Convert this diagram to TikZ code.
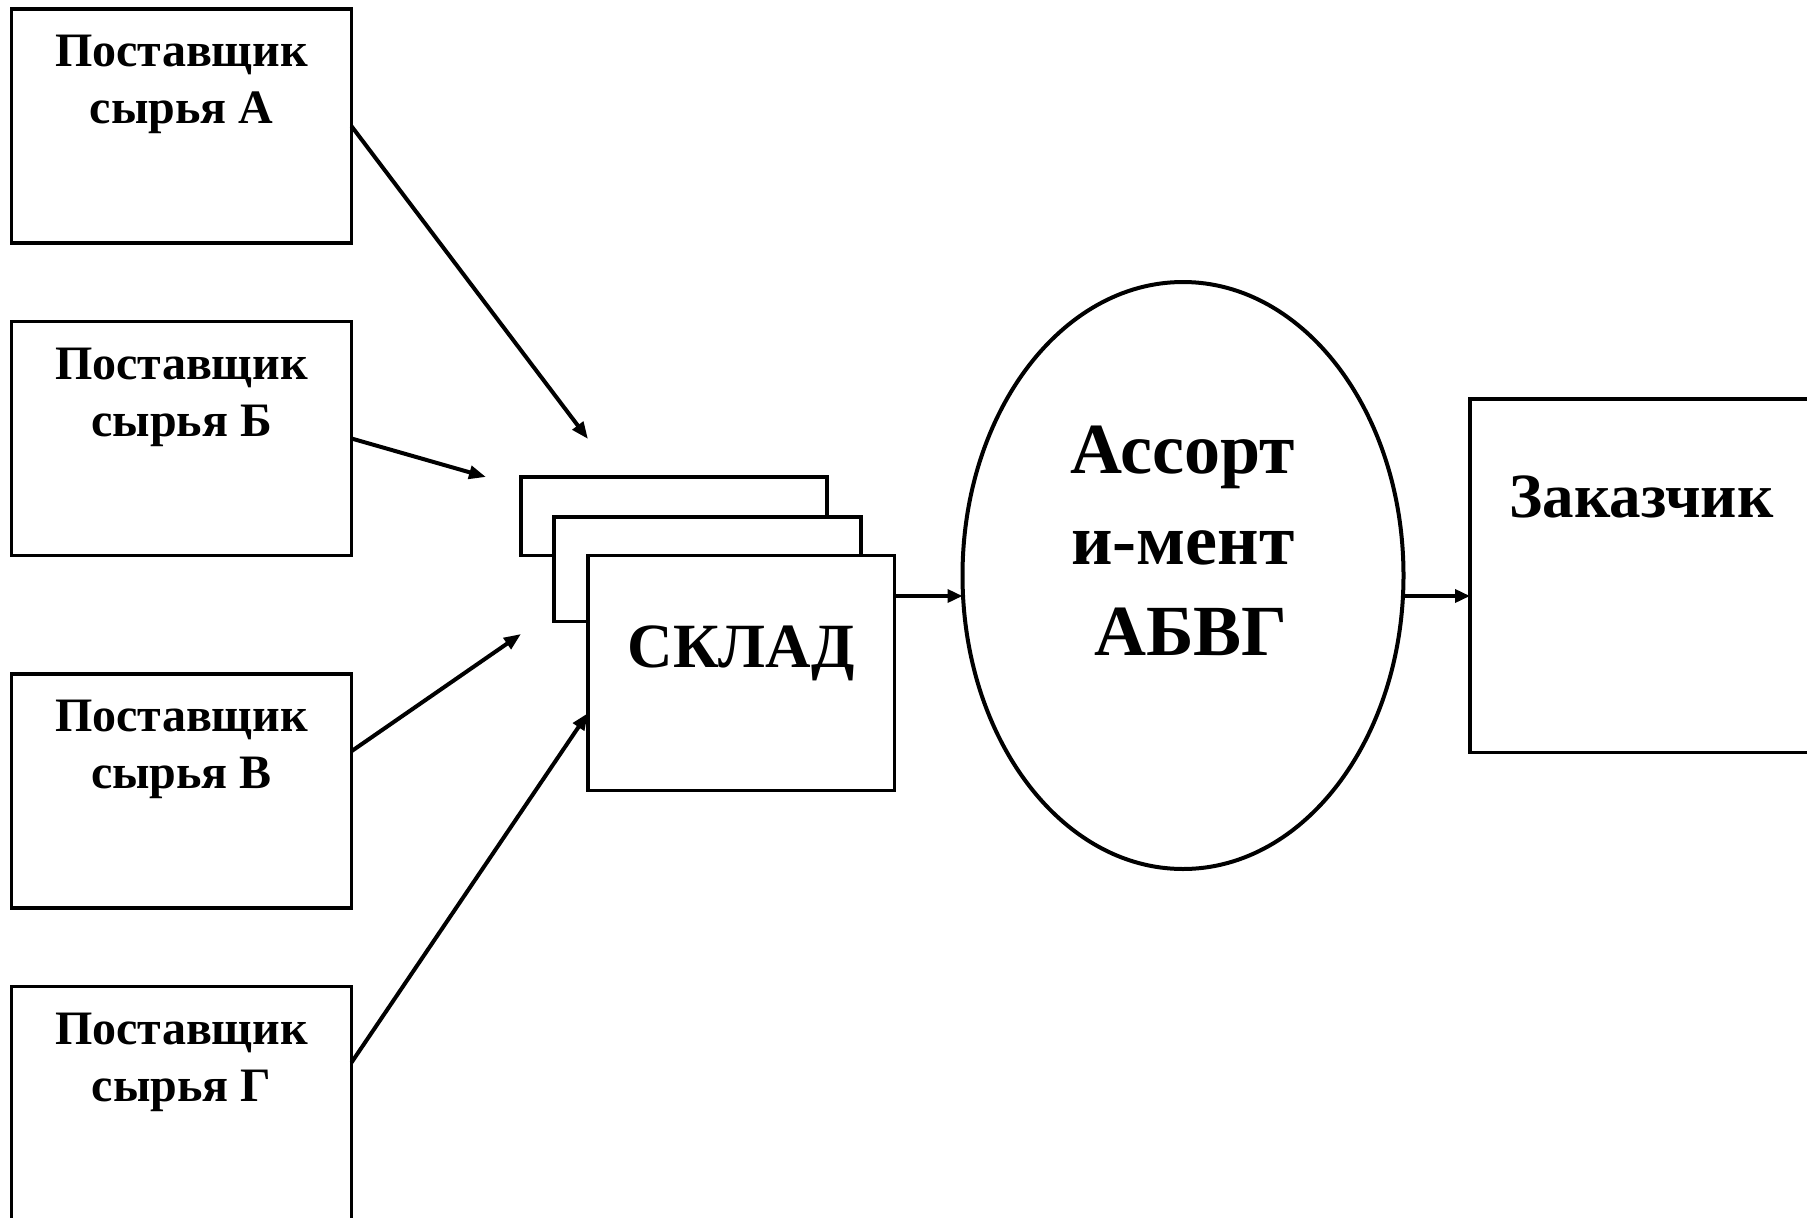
\documentclass[tikz,border=0pt]{standalone}
\usepackage{fontspec}
\setmainfont{Liberation Serif}
\usetikzlibrary{arrows.meta, shapes.geometric}

\begin{document}
\begin{tikzpicture}[x=1pt, y=-1pt,
  box/.style={draw, line width=3.5pt, fill=white, inner sep=0pt, outer sep=0pt, anchor=north west},
  supp/.style={box, minimum width=340pt, minimum height=234pt},
  lbl/.style={font=\bfseries\fontsize{48}{57}\selectfont, align=center, inner sep=0pt, anchor=north},
  flow/.style={line width=4pt, -{Triangle[length=17pt,width=13pt]}},
  hflow/.style={line width=3.5pt, -{Triangle[length=15pt,width=13pt]}},
]
\useasboundingbox (0,0) rectangle (1807,1218);
\clip (0,0) rectangle (1807,1218);
\fill[white] (0,0) rectangle (1807,1218);

% raw material suppliers
\node[supp] (A) at (11.5,9.2) {};
\node[supp] (B) at (11.5,321.5) {};
\node[supp] (V) at (11.5,674.2) {};
\node[supp] (G) at (11.5,986.5) {};
\node[lbl] (lA) at ([yshift=-26pt]A.north) {Поставщик\\сырья А};
\node[lbl] (lB) at ([yshift=-26pt]B.north) {Поставщик\\сырья Б};
\node[lbl] (lV) at ([yshift=-26pt]V.north) {Поставщик\\сырья В};
\node[lbl] (lG) at ([yshift=-26pt]G.north) {Поставщик\\сырья Г};

% stacked warehouse sheets
\node[box, minimum width=306pt, minimum height=78.5pt] (S1) at (521,477) {};
\node[box, minimum width=307pt, minimum height=104.5pt] (S2) at (554,517) {};
\node[box, minimum width=306.5pt, minimum height=235pt] (S3) at (588,555.5) {};
\node[font=\bfseries\fontsize{63}{70}\selectfont, inner sep=0pt, anchor=base] (lS) at ([yshift=-111.5pt]S3.north) {СКЛАД};

% assortment
\node[draw, ellipse, line width=4pt, inner sep=0pt, outer sep=0pt,
      minimum width=441pt, minimum height=587pt] (E) at (1183,575.5) {};
\node[font=\bfseries\fontsize{72}{91}\selectfont, align=center, inner sep=0pt, anchor=north] (lE) at (1183,426) {Ассорт\\и-мент\\\hspace*{16pt}АБВГ};

% customer
\node[box, minimum width=400pt, minimum height=353.5pt] (Z) at (1470,399) {};
\node[font=\bfseries\fontsize{63}{70}\selectfont, inner sep=0pt, anchor=base] (lZ) at (1641.6,517) {Заказчик};

% flows
\coordinate (tA) at (588,439);
\coordinate (tB) at (486,477);
\coordinate (tV) at (521,634);
\coordinate (yG) at (0,713);
\coordinate (hy) at (0,596);
\draw[flow] (A.east) -- (tA);
\draw[flow] (B.east) -- (tB);
\draw[flow] ([yshift=-77pt]V.north east) -- (tV);
\draw[flow] ([yshift=-76pt]G.north east) -- (S3.west |- yG);
\draw[hflow] (S3.east |- hy) -- (E.west |- hy);
\draw[hflow] (E.east |- hy) -- (Z.west |- hy);
\end{tikzpicture}
\end{document}
